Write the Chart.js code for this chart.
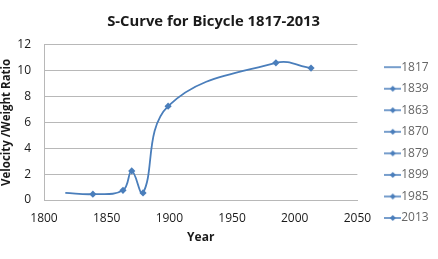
<!DOCTYPE html>
<html>
<head>
<meta charset="utf-8">
<script src="https://cdn.jsdelivr.net/npm/chart.js@4.4.0/dist/chart.umd.min.js"></script>
<style>
  html, body { margin: 0; padding: 0; background: #fff; }
</style>
</head>
<body>
<canvas id="chart" width="438" height="259"></canvas>
<script>
// values
const years = [1817, 1839, 1863, 1870, 1879, 1899, 1985, 2013];
const ratio = [0.55, 0.45, 0.75, 2.25, 0.55, 7.25, 10.6, 10.2];
const xTicks = [1800, 1850, 1900, 1950, 2000, 2050];
const yTicks = [0, 2, 4, 6, 8, 10, 12];

const blue = "#4a7ebb";
const gridColor = "#b8b8b8";
const font = "'Open Sans', 'Liberation Sans', sans-serif";

// little legend marks: a line, with a diamond on it for all but the first
function legendMark(withDiamond) {
  let c = document.createElement("canvas");
  c.width = 17;
  c.height = 8;
  let g = c.getContext("2d");
  g.strokeStyle = blue;
  g.lineWidth = 1.5;
  g.beginPath();
  g.moveTo(0, 4);
  g.lineTo(17, 4);
  g.stroke();
  if (withDiamond) {
    g.fillStyle = blue;
    g.beginPath();
    g.moveTo(8.5, 1);
    g.lineTo(11.5, 4);
    g.lineTo(8.5, 7);
    g.lineTo(5.5, 4);
    g.closePath();
    g.fill();
  }
  return c;
}
const lineOnly = legendMark(false);
const lineDiamond = legendMark(true);

const points = years.map((y, i) => ({ x: y, y: ratio[i] }));

new Chart(document.getElementById("chart"), {
  type: "line",
  data: {
    datasets: [
      {
        label: "Velocity /Weight Ratio",
        data: points,
        borderColor: blue,
        backgroundColor: blue,
        borderWidth: 1.8,
        tension: 0.4,
        pointStyle: "rectRot",
        pointRadius: years.map((y, i) => (i === 0 ? 0 : 3.6)),
        pointBorderWidth: 0,
        fill: false,
      },
    ],
  },
  options: {
    responsive: false,
    animation: false,
    layout: { padding: { left: 0, right: -0.7, top: 0, bottom: 14 } },
    plugins: {
      tooltip: { enabled: false },
      title: {
        display: true,
        // trailing spaces nudge the centred title a little to the left
        text: "S-Curve for Bicycle 1817-2013\u00a0\u00a0\u00a0",
        color: "#1a1a1a",
        font: { family: font, size: 14.8, weight: "bold" },
        padding: { top: 13, bottom: 14 },
      },
      legend: {
        display: true,
        position: "right",
        align: "start",
        // empty legend title, only pushes the entries down
        title: { display: true, text: " ", font: { size: 1 }, padding: { top: 50.4, bottom: 0 } },
        labels: {
          usePointStyle: true,
          pointStyleWidth: 5,
          padding: 9.55,
          color: "#111",
          font: { family: font, size: 12 },
          generateLabels: () =>
            years.map((y, i) => ({
              text: String(y),
              pointStyle: i === 0 ? lineOnly : lineDiamond,
              fillStyle: blue,
              strokeStyle: blue,
              lineWidth: 0,
              hidden: false,
              datasetIndex: 0,
            })),
        },
      },
    },
    scales: {
      x: {
        type: "linear",
        min: 1800,
        max: 2050,
        afterBuildTicks: (scale) => {
          scale.ticks = xTicks.map((v) => ({ value: v }));
        },
        afterFit: (scale) => {
          scale.height = 45;
        },
        grid: { display: false, drawTicks: false },
        border: { display: true, color: gridColor, width: 1 },
        ticks: {
          padding: 11,
          color: "#1a1a1a",
          font: { family: font, size: 12 },
          callback: (v) => String(v),
          maxRotation: 0,
        },
        title: {
          display: true,
          text: "Year",
          color: "#1a1a1a",
          font: { family: font, size: 12, weight: "bold" },
          padding: { top: 0, bottom: 0 },
        },
      },
      y: {
        min: 0,
        max: 12,
        afterBuildTicks: (scale) => {
          scale.ticks = yTicks.map((v) => ({ value: v }));
        },
        afterFit: (scale) => {
          scale.width = 44;
        },
        grid: { display: true, color: gridColor, lineWidth: 1, drawTicks: false },
        border: { display: true, color: gridColor, width: 1 },
        ticks: {
          padding: 13,
          color: "#1a1a1a",
          font: { family: font, size: 12 },
        },
        title: {
          display: true,
          text: "Velocity /Weight Ratio",
          color: "#1a1a1a",
          font: { family: font, size: 11.5, weight: "bold" },
          padding: { top: 0, bottom: 0 },
        },
      },
      // empty right-hand axis, only keeps the gap between plot and legend
      gap: {
        axis: "y",
        position: "right",
        display: true,
        grid: { display: false, drawTicks: false },
        border: { display: false },
        ticks: { display: false },
        afterFit: (scale) => {
          scale.width = 23.3;
        },
      },
    },
  },
});
</script>
</body>
</html>
